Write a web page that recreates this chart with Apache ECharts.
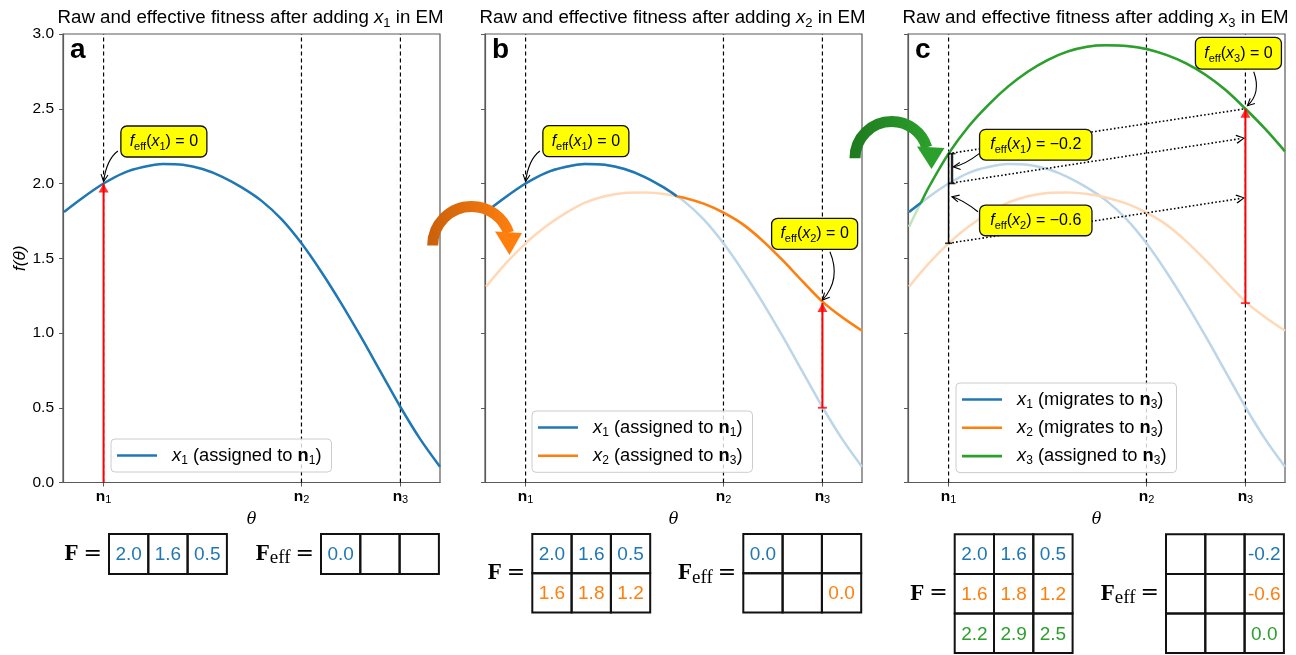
<!DOCTYPE html>
<html>
<head>
<meta charset="utf-8">
<title>Raw and effective fitness in EM</title>
<script src="https://cdn.jsdelivr.net/npm/echarts@6.0.0/dist/echarts.min.js"></script>
<style>
  html, body { margin: 0; padding: 0; background: #fff; }
  #chart { width: 1296px; height: 655px; }
</style>
</head>
<body>
<div id="chart"></div>
<script>
// fitness curves f(theta)
const theta = [0.6, 0.8, 1.0, 1.2, 1.4, 1.6, 1.8, 2.0, 2.2, 2.4, 2.6, 2.8, 3.0, 3.2, 3.4, 3.6, 3.8, 4.0, 4.2, 4.4];
const fitX1 = [1.81, 1.91, 2.00, 2.07, 2.11, 2.13, 2.125, 2.097, 2.045, 1.972, 1.882, 1.76, 1.60, 1.41, 1.20, 0.975, 0.74, 0.505, 0.29, 0.105];
const fitX2 = [1.31, 1.466, 1.60, 1.71, 1.80, 1.872, 1.915, 1.937, 1.94, 1.93, 1.905, 1.865, 1.805, 1.725, 1.615, 1.485, 1.345, 1.21, 1.105, 1.015];
const fitX3 = [1.71, 1.975, 2.20, 2.38, 2.525, 2.648, 2.748, 2.826, 2.882, 2.915, 2.924, 2.92, 2.90, 2.86, 2.804, 2.726, 2.625, 2.50, 2.365, 2.215];

// node positions n1, n2, n3 on the theta axis
const nodes = [1, 3, 4];
const yTicks = { min: 0, max: 3, step: 0.5 };

// raw fitness matrix, rows x1..x3, columns n1..n3
const fRaw = [[2.0, 1.6, 0.5], [1.6, 1.8, 1.2], [2.2, 2.9, 2.5]];
// effective fitness tables under each panel (null = empty cell)
const fEffA = [[0.0, null, null]];
const fEffB = [[0.0, null, null], [null, null, 0.0]];
const fEffC = [[null, null, -0.2], [null, null, -0.6], [null, null, 0.0]];

// legend entries: [verb, node]
const legendA = [['assigned', 1]];
const legendB = [['assigned', 1], ['assigned', 3]];
const legendC = [['migrates', 3], ['migrates', 3], ['assigned', 3]];

const FONT = '"Liberation Sans", Arial, Helvetica, sans-serif';
const SERIF = '"Liberation Serif", "Times New Roman", serif';
const AXIS = '#5a5a5a';
const solid = ['#1f77b4', '#ff7f0e', '#2ca02c'];
const light = ['#bcd6e8', '#ffd9b7', '#c0e3c0'];
const fits = [fitX1, fitX2, fitX3];

const panels = [
  { left: 63, curves: [0], eff: fEffA, legend: legendA, legendAt: [111, 439], letter: 'a',
    table: { y: 534, ch: 40, fx: 109, ex: 321 } },
  { left: 485, curves: [0, 1], eff: fEffB, legend: legendB, legendAt: [532, 411], letter: 'b',
    table: { y: 534, ch: 39.3, fx: 532.3, ex: 743.3 } },
  { left: 908, curves: [0, 1, 2], eff: fEffC, legend: legendC, legendAt: [956, 383], letter: 'c',
    table: { y: 534.3, ch: 39.6, fx: 954.7, ex: 1166 } }
];
const GRID_TOP = 34, GRID_H = 448.5, GRID_W = 377;

// part of curve j (within `curves`) that lies on top, with crossing points
function envelope(curves, j) {
  const top = i => curves.every(c => curves[j][i] >= c[i]);
  const out = [];
  for (let i = 0; i < theta.length; i++) {
    const t = top(i);
    if (t) out.push([theta[i], curves[j][i]]);
    if (i + 1 < theta.length && t !== top(i + 1)) {
      const side = t ? i + 1 : i;
      let other = -1;
      curves.forEach((c, m) => { if (m !== j && c[side] > curves[j][side]) other = m; });
      const d0 = curves[j][i] - curves[other][i];
      const d1 = curves[j][i + 1] - curves[other][i + 1];
      const f = d0 / (d0 - d1);
      out.push([theta[i] + f * (theta[i + 1] - theta[i]),
                curves[j][i] + f * (curves[j][i + 1] - curves[j][i])]);
    }
  }
  return out;
}

const sub = { fontSize: 12, fontFamily: FONT, verticalAlign: 'bottom', lineHeight: 12 };

const grid = panels.map(p => ({
  left: p.left, top: GRID_TOP, width: GRID_W, height: GRID_H,
  show: true, borderColor: AXIS, borderWidth: 1.2, backgroundColor: 'transparent'
}));

const xAxis = panels.map((p, g) => ({
  gridIndex: g, type: 'value', min: 0.59, max: 4.4,
  splitLine: { show: false },
  axisLine: { onZero: false, lineStyle: { color: AXIS, width: 1.2 } },
  axisTick: { customValues: nodes, length: 4, lineStyle: { color: AXIS } },
  axisLabel: {
    customValues: nodes, margin: 5, color: '#000',
    formatter: v => `{b|n}{s|${nodes.indexOf(v) + 1}}`,
    rich: {
      b: { fontSize: 15.5, fontWeight: 'bold', fontFamily: FONT, lineHeight: 18 },
      s: { fontSize: 11, fontFamily: FONT, verticalAlign: 'bottom', lineHeight: 11 }
    }
  },
  name: 'θ', nameLocation: 'middle', nameGap: 29,
  nameTextStyle: { fontFamily: '"DejaVu Serif", serif', fontStyle: 'italic', fontSize: 16, color: '#000' }
}));

const yAxis = panels.map((p, g) => ({
  gridIndex: g, type: 'value', min: yTicks.min, max: yTicks.max, interval: yTicks.step,
  splitLine: { show: false },
  axisLine: { show: true, onZero: false, lineStyle: { color: AXIS, width: 1.2 } },
  axisTick: { show: true, length: 4, lineStyle: { color: AXIS } },
  axisLabel: { show: g === 0, margin: 9, color: '#000', fontSize: 15.5, fontFamily: FONT,
    formatter: v => v.toFixed(1) },
  name: g === 0 ? 'f(θ)' : '', nameLocation: 'middle', nameGap: 34, nameRotate: 90,
  nameTextStyle: { fontFamily: FONT, fontStyle: 'italic', fontSize: 17, color: '#000' }
}));

const series = [];
panels.forEach((p, g) => {
  const ax = { xAxisIndex: g, yAxisIndex: g };
  nodes.forEach(n => series.push({
    type: 'line', ...ax, data: [[n, yTicks.min], [n, yTicks.max]], symbol: 'none', silent: true,
    lineStyle: { color: '#000', width: 1.2, type: [4, 3] }, z: 1
  }));
  const curves = p.curves.map(k => fits[k]);
  if (curves.length > 1) {
    p.curves.forEach(k => series.push({
      type: 'line', ...ax, data: theta.map((t, i) => [t, fits[k][i]]), symbol: 'none',
      smooth: 0.3, silent: true, lineStyle: { color: light[k], width: 2.5 }, z: 2
    }));
  }
  p.curves.forEach((k, j) => series.push({
    name: `p${g}x${k}`, type: 'line', ...ax, data: envelope(curves, j), symbol: 'none',
    smooth: 0.3, lineStyle: { color: solid[k], width: 2.5 }, itemStyle: { color: solid[k] }, z: 3
  }));
});

// red arrows showing the fitness gap at the assigned node
const redArrows = [
  { g: 0, x: nodes[0], lo: 0, hi: fRaw[0][0], cap: false },
  { g: 1, x: nodes[2], lo: fRaw[0][2], hi: fRaw[1][2], cap: true },
  { g: 2, x: nodes[2], lo: fRaw[1][2], hi: fRaw[2][2], cap: true }
];
redArrows.forEach(r => {
  const ax = { xAxisIndex: r.g, yAxisIndex: r.g };
  series.push({ type: 'line', ...ax, data: [[r.x, r.lo], [r.x, r.hi]], symbol: 'none', silent: true,
    lineStyle: { color: '#ff0000', width: 2 }, z: 4 });
  series.push({ type: 'scatter', ...ax, data: [[r.x, r.hi]], symbol: 'triangle', symbolSize: [10, 9],
    symbolOffset: [0, '50%'], itemStyle: { color: '#ff0000' }, silent: true, z: 5 });
  if (r.cap) series.push({ type: 'scatter', ...ax, data: [[r.x, r.lo]], symbol: 'rect', symbolSize: [9, 1.8],
    itemStyle: { color: '#ff0000' }, silent: true, z: 5 });
});

// panel c: dotted transfers from n1 to n3 and the gap bars at n1
const shift = fRaw[2][2] - fRaw[2][0];
const chevron = 'path://M5,0 L10,9 L8.8,10 L5,2.2 L1.2,10 L0,9 Z';
series.push({
  type: 'lines', coordinateSystem: 'cartesian2d', xAxisIndex: 2, yAxisIndex: 2, silent: true, z: 6,
  lineStyle: { color: '#000', width: 1.6, type: [1.6, 2.2], opacity: 1, curveness: 0 },
  symbolSize: 9,
  data: [
    { coords: [[nodes[0], fRaw[2][0]], [nodes[2], fRaw[2][2]]], symbol: ['none', 'none'] },
    { coords: [[nodes[0], fRaw[0][0]], [nodes[2] - 0.05, fRaw[0][0] + shift]], symbol: ['none', chevron] },
    { coords: [[nodes[0], fRaw[1][0]], [nodes[2] - 0.05, fRaw[1][0] + shift]], symbol: ['none', chevron] }
  ]
});
const barDx = 0.035;
series.push({ type: 'line', xAxisIndex: 2, yAxisIndex: 2, data: [[nodes[0] + barDx, fRaw[2][0]], [nodes[0] + barDx, fRaw[0][0]]],
  symbol: 'none', silent: true, lineStyle: { color: '#222', width: 2.4 }, z: 6 });
series.push({ type: 'line', xAxisIndex: 2, yAxisIndex: 2, data: [[nodes[0], fRaw[2][0]], [nodes[0], fRaw[1][0]]],
  symbol: 'none', silent: true, lineStyle: { color: '#000', width: 1.5 }, z: 6 });
series.push({ type: 'scatter', xAxisIndex: 2, yAxisIndex: 2, silent: true, z: 7,
  data: [[nodes[0] + barDx, fRaw[2][0]], [nodes[0] + barDx, fRaw[0][0]], [nodes[0], fRaw[1][0]]],
  symbol: 'rect', symbolSize: [7, 1.6], itemStyle: { color: '#000' } });

const legend = panels.map((p, g) => ({
  data: p.curves.map(k => ({ name: `p${g}x${k}`, icon: 'rect', itemStyle: { color: solid[k] } })),
  orient: 'vertical', left: p.legendAt[0], top: p.legendAt[1],
  itemWidth: 40, itemHeight: 2.6, itemGap: 6.3, padding: [5.5, 10, 5.5, 6],
  backgroundColor: 'rgba(255,255,255,0.8)', borderColor: '#cccccc', borderWidth: 1, borderRadius: 4,
  selectedMode: false, z: 10,
  formatter: name => {
    const k = +name.slice(3);
    const [verb, node] = p.legend[p.curves.indexOf(k)];
    return `{i|x}{s|${k + 1}} (${verb} to {b|n}{s|${node}})`;
  },
  textStyle: {
    fontFamily: FONT, fontSize: 18.3, color: '#000', lineHeight: 22, padding: [0, 0, 0, 10],
    rich: {
      i: { fontStyle: 'italic', fontSize: 18.3, fontFamily: FONT, lineHeight: 22 },
      b: { fontWeight: 'bold', fontSize: 18.3, fontFamily: FONT, lineHeight: 22 },
      s: sub
    }
  }
}));

const chart = echarts.init(document.getElementById('chart'));
chart.setOption({ animation: false, grid, xAxis, yAxis, series, legend });

// ---------- annotations drawn on top ----------
const graphic = [];
const Z = 100;
const richBox = {
  r: { fontSize: 16, fontFamily: FONT, lineHeight: 22 },
  i: { fontSize: 16, fontFamily: FONT, fontStyle: 'italic', lineHeight: 22 },
  s: { fontSize: 11, fontFamily: FONT, verticalAlign: 'bottom', lineHeight: 11 }
};

panels.forEach((p, g) => {
  const cx = p.left + GRID_W / 2;
  graphic.push({ type: 'text', x: cx - 1, y: 17.5, z: Z, style: {
    text: `{r|Raw and effective fitness after adding }{i|x}{s|${g + 1}}{r| in EM}`,
    align: 'center', verticalAlign: 'middle', fill: '#000',
    rich: {
      r: { fontSize: 18.7, fontFamily: FONT, lineHeight: 24 },
      i: { fontSize: 18.7, fontFamily: FONT, fontStyle: 'italic', lineHeight: 24 },
      s: { fontSize: 13, fontFamily: FONT, verticalAlign: 'bottom', lineHeight: 13 }
    } } });
  graphic.push({ type: 'text', x: p.left + 7, y: 50, z: Z, style: {
    text: p.letter, font: `bold 28px ${FONT}`, fill: '#000', align: 'left', verticalAlign: 'middle' } });

  // matrices under the panel
  const t = p.table, cw = 39.3;
  const rowsF = fRaw.slice(0, g + 1);
  const drawMatrix = (x0, rows, fmt) => {
    rows.forEach((row, r) => row.forEach((v, c) => {
      graphic.push({ type: 'rect', z: Z, shape: { x: x0 + c * cw, y: t.y + r * t.ch, width: cw, height: t.ch },
        style: { fill: 'none', stroke: '#111', lineWidth: 2 } });
      if (v !== null) graphic.push({ type: 'text', z: Z + 1, x: x0 + c * cw + cw / 2, y: t.y + r * t.ch + t.ch / 2 + 1,
        style: { text: fmt(v), font: `19px ${FONT}`, fill: solid[r], align: 'center', verticalAlign: 'middle' } });
    }));
  };
  drawMatrix(t.fx, rowsF, v => v.toFixed(1));
  drawMatrix(t.ex, p.eff, v => v.toFixed(1));
  const midY = t.y + rowsF.length * t.ch / 2;
  const labelRich = {
    F: { fontSize: 23, fontFamily: SERIF, fontWeight: 'bold', lineHeight: 28 },
    e: { fontSize: 19, fontFamily: SERIF, verticalAlign: 'bottom', lineHeight: 17 },
    g: { fontSize: 10, fontFamily: SERIF, lineHeight: 28 },
    q: { fontSize: 22, fontFamily: '"DejaVu Serif", serif', lineHeight: 28 }
  };
  graphic.push({ type: 'text', z: Z, x: t.fx - 7, y: midY, style: {
    text: '{F|F}{g|  }{q|=}', rich: labelRich, align: 'right', verticalAlign: 'middle', fill: '#000' } });
  graphic.push({ type: 'text', z: Z, x: t.ex - 7, y: midY, style: {
    text: '{F|F}{e|eff}{g|  }{q|=}', rich: labelRich, align: 'right', verticalAlign: 'middle', fill: '#000' } });
});

// yellow call-out boxes with curved arrows
function effTag(k, v) {
  const val = v === 0 ? '0' : '\u2212' + Math.abs(v).toFixed(1);
  return `{i|f}{s|eff}{r|(}{i|x}{s|${k}}{r|) = ${val}}`;
}
const notes = [
  { g: 0, at: [nodes[0], fRaw[0][0]], k: 1, v: fEffA[0][0], box: [17.3, -57.5, 86, 31], s: [14.3, -32.5], c: [3, -24], e: [0, -2] },
  { g: 1, at: [nodes[0], fRaw[0][0]], k: 1, v: fEffB[0][0], box: [17.3, -57.8, 86, 31], s: [14.3, -32.5], c: [3, -24], e: [0, -2] },
  { g: 1, at: [nodes[2], fRaw[1][2]], k: 2, v: fEffB[1][2], box: [-50.8, -84.8, 86, 31], s: [7.5, -51.4], c: [19, -24], e: [0, -3] },
  { g: 2, at: [nodes[2], fRaw[2][2]], k: 3, v: fEffC[2][2], box: [-50, -71.4, 86, 31.7], s: [8.3, -37], c: [16, -16], e: [2, -3] },
  { g: 2, at: [nodes[0], (fRaw[2][0] + fRaw[0][0]) / 2], k: 1, v: fEffC[0][2], box: [31, -39.2, 112.4, 30.7], s: [31, -15.2], c: [15, -3], e: [4.7, -1.8] },
  { g: 2, at: [nodes[0], (fRaw[2][0] + fRaw[0][0]) / 2], k: 2, v: fEffC[1][2], box: [31, 36.5, 112.4, 30.7], s: [29.4, 43.2], c: [14, 31], e: [3.4, 28.2] }
];
notes.forEach(n => {
  const P = chart.convertToPixel({ gridIndex: n.g }, n.at);
  const S = [P[0] + n.s[0], P[1] + n.s[1]];
  const C = [P[0] + n.c[0], P[1] + n.c[1]];
  const E = [P[0] + n.e[0], P[1] + n.e[1]];
  const dx = E[0] - C[0], dy = E[1] - C[1], L = Math.hypot(dx, dy), ux = dx / L, uy = dy / L;
  const hl = 7, hw = 3.5;
  graphic.push({ type: 'bezierCurve', z: Z + 2, shape: { x1: S[0], y1: S[1], cpx1: C[0], cpy1: C[1], x2: E[0], y2: E[1] },
    style: { stroke: '#000', lineWidth: 1.1, fill: 'none' } });
  graphic.push({ type: 'polyline', z: Z + 2, shape: { points: [
      [E[0] - hl * ux + hw * uy, E[1] - hl * uy - hw * ux], E, [E[0] - hl * ux - hw * uy, E[1] - hl * uy + hw * ux]] },
    style: { stroke: '#000', lineWidth: 1.1, fill: 'none' } });
  const bx = P[0] + n.box[0], by = P[1] + n.box[1];
  graphic.push({ type: 'rect', z: Z + 3, shape: { x: bx, y: by, width: n.box[2], height: n.box[3], r: 6 },
    style: { fill: '#ffff00', stroke: '#111', lineWidth: 1.3 } });
  graphic.push({ type: 'text', z: Z + 4, x: bx + n.box[2] / 2, y: by + n.box[3] / 2, style: {
    text: effTag(n.k, n.v), rich: richBox, align: 'center', verticalAlign: 'middle', fill: '#000' } });
});

// curly arrows between the panels
function curlyArrow(cx, cy, r, endDeg, head, dark, bright) {
  const grad = new echarts.graphic.LinearGradient(0, 0, 1, 0, [
    { offset: 0, color: dark }, { offset: 1, color: bright }]);
  graphic.push({ type: 'arc', z: Z + 5, shape: { cx, cy, r, startAngle: Math.PI, endAngle: endDeg * Math.PI / 180, clockwise: true },
    style: { stroke: grad, lineWidth: 11, fill: 'none' } });
  graphic.push({ type: 'polygon', z: Z + 5, shape: { points: head }, style: { fill: bright } });
}
curlyArrow(471.7, 245.4, 39, 341, [[495, 231.5], [522, 233], [509.5, 255]], '#c9600b', '#ff7f0e');
curlyArrow(891.7, 158.2, 36.7, 343, [[917, 146.5], [944.5, 148], [931.5, 169]], '#1e7a1e', '#2ca02c');

chart.setOption({ graphic });
</script>
</body>
</html>
